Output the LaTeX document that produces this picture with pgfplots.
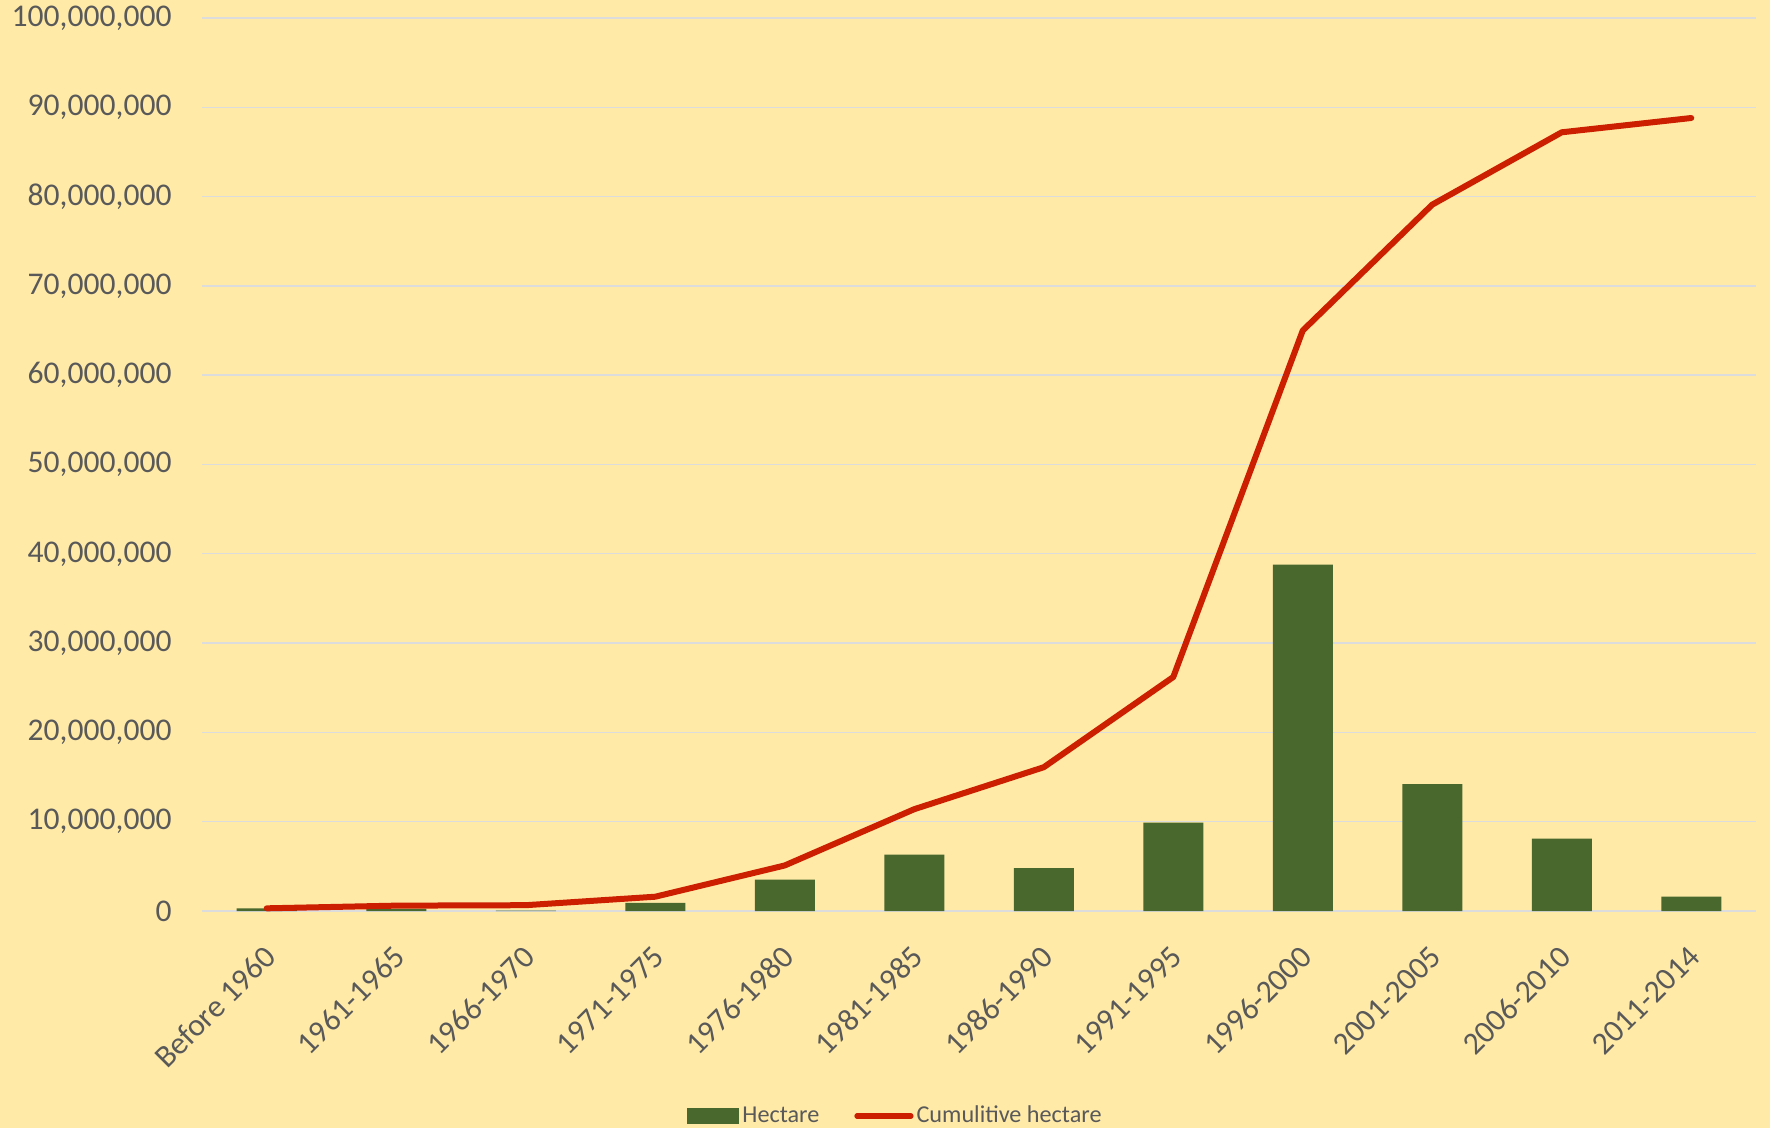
\documentclass[border=0pt]{standalone}
\usepackage{fontspec}
\setmainfont{Carlito}
\usepackage{pgfplots}
\pgfplotsset{compat=1.18}
\definecolor{bg}{HTML}{FFEAA8}
\definecolor{bargreen}{HTML}{48682E}
\definecolor{linered}{HTML}{CC1E00}
\definecolor{gridgray}{HTML}{DCDCDC}
\definecolor{txt}{HTML}{595959}
\begin{document}
\begin{tikzpicture}
\path[use as bounding box, fill=bg] (-101pt,-108.5pt) rectangle (784pt,455.5pt);
\begin{axis}[
  at={(0,0)}, anchor=south west,
  scale only axis, width=777pt, height=446.5pt,
  xmin=-0.5, xmax=11.5, ymin=0, ymax=100000000,
  xtick={0,1,2,3,4,5,6,7,8,9,10,11},
  xticklabels={Before 1960,1961-1965,1966-1970,1971-1975,1976-1980,1981-1985,1986-1990,1991-1995,1996-2000,2001-2005,2006-2010,2011-2014},
  ytick={0,10000000,20000000,30000000,40000000,50000000,60000000,70000000,80000000,90000000,100000000},
  scaled y ticks=false,
  /pgf/number format/fixed,
  /pgf/number format/precision=0,
  /pgf/number format/1000 sep={,},
  /pgf/number format/assume math mode=true,
  ymajorgrids, grid style={gridgray, line width=0.7pt},
  axis line style={draw=none},
  major tick length=0pt,
  tick label style={font=\fontsize{15.8}{18}\selectfont, text=txt},
  yticklabel style={anchor=east, inner sep=0pt, xshift=-15pt},
  xticklabel style={rotate=45, anchor=east, inner sep=0pt, yshift=-15.5pt, xshift=-13pt},
  legend style={at={(0.4466,-0.2296)}, anchor=center, legend columns=2, draw=none, fill=none,
    font=\fontsize{12.1}{14}\selectfont, text=txt, nodes={inner xsep=1.5pt},
    /tikz/every even column/.append style={column sep=16pt}},
]
\addplot[ybar, bar width=30pt, fill=bargreen, draw=none, area legend,
  legend image code/.code={\fill[bargreen] (0pt,-3.8pt) rectangle (26pt,3.8pt);}]
  coordinates {(0,300000) (1,250000) (2,50000) (3,900000) (4,3500000) (5,6300000) (6,4800000) (7,9900000) (8,38800000) (9,14200000) (10,8100000) (11,1600000)};
\addlegendentry{Hectare}
\addplot[linered, line width=3pt, line cap=round, line join=round, mark=none,
  legend image code/.code={\draw[linered, line width=2.6pt, line cap=round] (0pt,0pt) -- (27pt,0pt);}]
  coordinates {(0,300000) (1,600000) (2,650000) (3,1600000) (4,5100000) (5,11400000) (6,16100000) (7,26200000) (8,65000000) (9,79100000) (10,87200000) (11,88800000)};
\addlegendentry{Cumulitive hectare}
\end{axis}
\end{tikzpicture}
\end{document}
